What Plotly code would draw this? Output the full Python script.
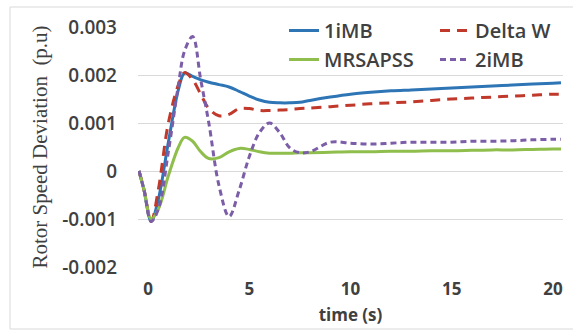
import plotly.graph_objects as go

time_s = [-0.45, -0.2, 0.15, 0.5, 1.0, 1.5, 1.8, 2.2, 2.6, 3.0, 3.5, 4.0, 4.5, 5.0, 5.5,
          6.0, 6.5, 7.0, 7.5, 8.0, 9, 10, 11, 12, 13, 14, 15, 16, 17, 18, 19, 20, 20.4]

imb1 = [0, -0.0004, -0.00105, -0.0006, 0.0006, 0.0017, 0.00204, 0.00197, 0.0019, 0.00185,
        0.0018, 0.00175, 0.00166, 0.00156, 0.00148, 0.00143, 0.00142, 0.00142, 0.00143,
        0.00147, 0.00154, 0.0016, 0.00164, 0.00167, 0.00169, 0.00171, 0.00173, 0.00175,
        0.00177, 0.00179, 0.00181, 0.00183, 0.00184]

delta_w = [0, -0.0004, -0.00105, -0.0004, 0.001, 0.0018, 0.00205, 0.0019, 0.0016, 0.0013,
           0.00115, 0.00118, 0.0013, 0.0013, 0.00126, 0.00126, 0.00127, 0.00128, 0.0013,
           0.00131, 0.00134, 0.00137, 0.0014, 0.00142, 0.00144, 0.00147, 0.0015, 0.00152,
           0.00154, 0.00156, 0.00158, 0.0016, 0.0016]

mrsapss = [0, -0.0004, -0.001, -0.0008, -0.0001, 0.0005, 0.0007, 0.00062, 0.0004, 0.00026,
           0.00028, 0.0004, 0.00047, 0.00045, 0.0004, 0.00037, 0.00037, 0.00037, 0.00038,
           0.00038, 0.00039, 0.0004, 0.0004, 0.00041, 0.00041, 0.00042, 0.00042, 0.00043,
           0.00044, 0.00044, 0.00045, 0.00046, 0.00046]

imb2 = [0, -0.0004, -0.00105, -0.0008, 0.0004, 0.0018, 0.0025, 0.0028, 0.0019, 0.001,
        -0.0003, -0.00095, -0.0004, 0.0003, 0.0008, 0.001, 0.0008, 0.00048, 0.00038,
        0.0004, 0.0006, 0.00058, 0.00056, 0.00058, 0.0006, 0.0006, 0.0006, 0.00062,
        0.00062, 0.00063, 0.00065, 0.00066, 0.00066]

x_ticks = [0, 5, 10, 15, 20]
y_ticks = [-0.002, -0.001, 0, 0.001, 0.002, 0.003]
y_tick_labels = ["-0.002", "-0.001", "0", "0.001", "0.002", "0.003"]

fig = go.Figure()
fig.add_trace(go.Scatter(x=time_s, y=imb1, name="1iMB", mode="lines",
                         line=dict(color="#2E75B6", width=3, shape="spline")))
fig.add_trace(go.Scatter(x=time_s, y=delta_w, name="Delta W", mode="lines",
                         line=dict(color="#C0392B", width=3, dash="10px,7px", shape="spline")))
fig.add_trace(go.Scatter(x=time_s, y=mrsapss, name="MRSAPSS", mode="lines",
                         line=dict(color="#8FBE4C", width=3, shape="spline")))
fig.add_trace(go.Scatter(x=time_s, y=imb2, name="2iMB", mode="lines",
                         line=dict(color="#7B5EA7", width=3, dash="6px,4px", shape="spline")))

L, R, T, B = 138, 10, 27, 64
W, H = 573, 331
pw, ph = W - L - R, H - T - B
TXT = "#404040"

fig.update_layout(
    width=W, height=H,
    margin=dict(l=L, r=R, t=T, b=B, autoexpand=False),
    paper_bgcolor="white", plot_bgcolor="white",
    font=dict(family="Open Sans", color=TXT),
    legend=dict(orientation="h", x=(284 - L) / pw, y=1 + 16 / ph, xanchor="left", yanchor="top",
                entrywidth=106, entrywidthmode="pixels", bgcolor="rgba(0,0,0,0)",
                font=dict(size=20, family="Open Sans", weight=600, color=TXT),
                itemwidth=30, tracegroupgap=0),
    xaxis=dict(range=[-0.5, 20.5], tickvals=x_ticks, showgrid=False, zeroline=False,
               showline=False, ticks="", automargin=False, ticklabelstandoff=10,
               tickfont=dict(size=17, family="Open Sans", weight="bold", color=TXT),
               title=dict(text="time (s)", standoff=10,
                          font=dict(size=17, family="Open Sans", weight="bold", color=TXT))),
    yaxis=dict(range=[-0.002, 0.003], tickvals=y_ticks, ticktext=y_tick_labels,
               showgrid=True, gridcolor="#D9D9D9", gridwidth=1, zeroline=False,
               showline=False, ticks="", ticklabelstandoff=20, automargin=False,
               tickfont=dict(size=19, family="Open Sans", weight=600, color=TXT),
               title=dict(text="Rotor Speed Deviation  (p.u)", standoff=8,
                          font=dict(size=21, family="Liberation Serif", color=TXT))),
    shapes=[dict(type="rect", xref="paper", yref="paper",
                 x0=(10 - L) / pw, x1=(W + 5 - L) / pw,
                 y0=(H - 329 - B) / ph, y1=(H - 7 - B) / ph,
                 line=dict(color="#D9D9D9", width=1), fillcolor="rgba(0,0,0,0)", layer="below")],
)

fig.write_html("out.html", config={"displayModeBar": False},
               post_script="document.body.style.margin='0px';")
